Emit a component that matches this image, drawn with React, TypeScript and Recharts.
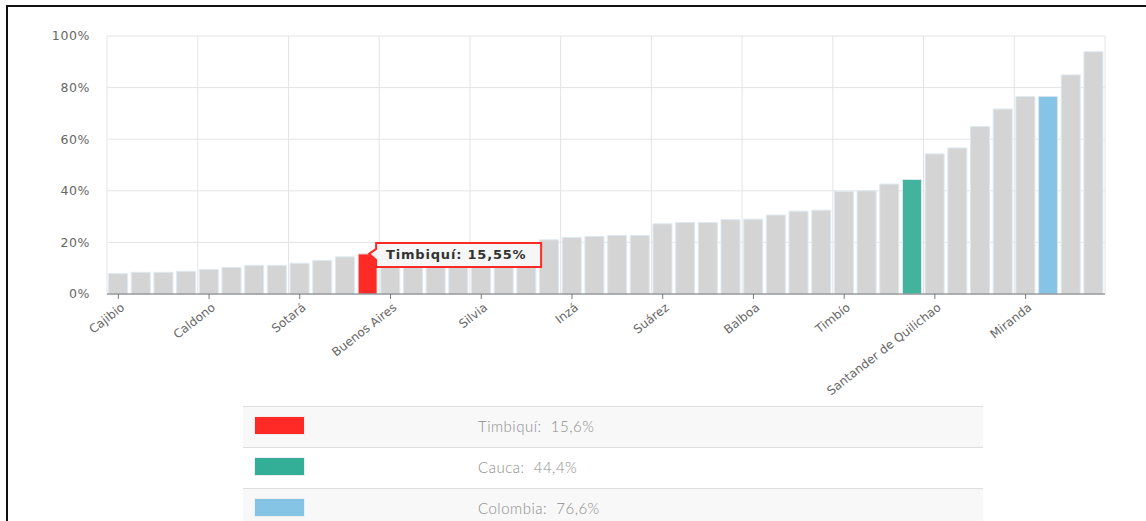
import React from 'react'
import { BarChart, Bar, XAxis, YAxis, CartesianGrid, Cell, LabelList } from 'recharts'

// municipios del Cauca ordenados por valor; solo se conocen los rotulados
const municipios = [
  'Cajibio', '', '', '', 'Caldono', '', '', '', 'Sotará', '', '', 'Timbiquí',
  'Buenos Aires', '', '', '', 'Silvia', '', '', '', 'Inzá', '', '', '',
  'Suárez', '', '', '', 'Balboa', '', '', '', 'Timbío', '', '', 'Cauca',
  'Santander de Quilichao', '', '', '', 'Miranda', 'Colombia', '', '',
]

const valores = [
  7.9, 8.4, 8.4, 8.8, 9.5, 10.3, 11.1, 11.1, 11.9, 13.0, 14.4, 15.55,
  15.9, 16.3, 16.8, 17.4, 18.0, 18.7, 19.5, 21.0, 21.9, 22.3, 22.7, 22.7,
  27.2, 27.7, 27.7, 28.8, 29.0, 30.6, 32.1, 32.5, 39.7, 40.0, 42.6, 44.4,
  54.3, 56.6, 64.9, 71.7, 76.5, 76.6, 84.9, 93.9,
]

const ticksX = [0, 4, 8, 12, 16, 20, 24, 28, 32, 36, 40]
const ticksY = [0, 20, 40, 60, 80, 100]

const destacados = [11, 35, 41]
const nombresLeyenda = ['Timbiquí', 'Cauca', 'Colombia']
const coloresLeyenda = ['#ff2a26', '#33ae97', '#85c4e4']
const coloresBarra = ['#ff2a26', '#42b39d', '#85c4e6']

const GRIS = '#d4d4d4'
const TOOLTIP_IDX = 11

const data = valores.map((v, i) => ({ pos: i, nombre: municipios[i], valor: v }))

const coma = (v: number, d: number) => v.toFixed(d).replace('.', ',')

function XTick(props: any) {
  const { x, y, payload } = props
  const ax = x + 7
  const ay = y + 8
  return (
    <text
      x={ax}
      y={ay}
      textAnchor="end"
      transform={`rotate(-38, ${ax}, ${ay})`}
      fill="#666"
      fontSize={12}
      fontFamily="DejaVu Sans"
    >
      {municipios[payload.value]}
    </text>
  )
}

function Callout(props: any) {
  const vb = props.viewBox || {}
  const x = props.x ?? vb.x
  const y = props.y ?? vb.y
  const width = props.width ?? vb.width
  const isTarget = props.index === TOOLTIP_IDX || props.value === valores[TOOLTIP_IDX]
  if (!isTarget || x == null) return null
  const left = x + width - 1
  const top = y - 11
  const w = 165
  const h = 24
  const d = `M${left},${top} H${left + w} V${top + h} H${left} V${top + 17} L${left - 7},${top + 11} L${left},${top + 6} Z`
  return (
    <g>
      <path d={d} fill="#f7f7f7" fillOpacity={0.96} stroke="#ff2a26" strokeWidth={2} />
      <text
        x={left + 10}
        y={top + 16.5}
        fontSize={13}
        fontWeight="bold"
        fontFamily="DejaVu Sans"
        letterSpacing={0.8}
        fill="#333"
      >
        {`${municipios[TOOLTIP_IDX]}: ${coma(valores[TOOLTIP_IDX], 2)}%`}
      </text>
    </g>
  )
}

export default function App() {
  const n = data.length
  return (
    <div style={{ position: 'fixed', left: 0, top: 0, width: 1146, height: 521, background: '#fff', overflow: 'hidden' }}>
      <div
        style={{
          position: 'absolute', left: 6, top: 5, right: 0, bottom: 0,
          borderTop: '2px solid #111', borderLeft: '2px solid #111',
        }}
      />
      <div style={{ position: 'absolute', left: 0, top: 0 }}>
        <BarChart
          width={1146}
          height={400}
          data={data}
          margin={{ top: 36, right: 41, bottom: 6, left: 47 }}
          barCategoryGap={1.6}
        >
          <CartesianGrid
            stroke="#e4e4e4"
            verticalCoordinatesGenerator={({ offset }: any) =>
              Array.from({ length: n / 4 + 1 }, (_, k) => offset.left + (k * 4 * offset.width) / n)
            }
          />
          <XAxis
            dataKey="pos"
            type="category"
            ticks={ticksX}
            interval={0}
            height={100}
            tickSize={5}
            axisLine={{ stroke: '#777' }}
            tickLine={{ stroke: '#777' }}
            tick={<XTick />}
          />
          <YAxis
            domain={[0, 100]}
            ticks={ticksY}
            width={60}
            axisLine={false}
            tickLine={false}
            tickSize={0}
            tickMargin={17}
            tickFormatter={(v) => `${v}%`}
            tick={{ fill: '#666', fontSize: 12.5, fontFamily: 'DejaVu Sans', letterSpacing: 0.6 }}
          />
          <Bar dataKey="valor" fill={GRIS} stroke="#dce9f0" strokeWidth={1} isAnimationActive={false}>
            {data.map((_, i) => {
              const k = destacados.indexOf(i)
              return <Cell key={i} fill={k >= 0 ? coloresBarra[k] : GRIS} />
            })}
            <LabelList dataKey="valor" content={<Callout />} />
          </Bar>
        </BarChart>
      </div>
      <div
        style={{
          position: 'absolute', left: 243, top: 406, width: 740,
          fontFamily: 'Lato, sans-serif', fontWeight: 300, fontSize: 15, color: '#8c8c8c',
        }}
      >
        {nombresLeyenda.map((nom, k) => (
          <div
            key={nom}
            style={{
              height: 40, borderTop: '1px solid #dedede',
              background: k % 2 === 0 ? '#f8f8f8' : '#fff',
              position: 'relative',
            }}
          >
            <div
              style={{
                position: 'absolute', left: 11, top: 9, width: 51, height: 19,
                background: coloresLeyenda[k], border: '1px solid #eee', boxSizing: 'border-box',
              }}
            />
            <div style={{ position: 'absolute', left: 235, top: 10, letterSpacing: 0.5, whiteSpace: 'pre' }}>
              {`${nom}:  ${coma(valores[destacados[k]], 1)}%`}
            </div>
          </div>
        ))}
      </div>
    </div>
  )
}
